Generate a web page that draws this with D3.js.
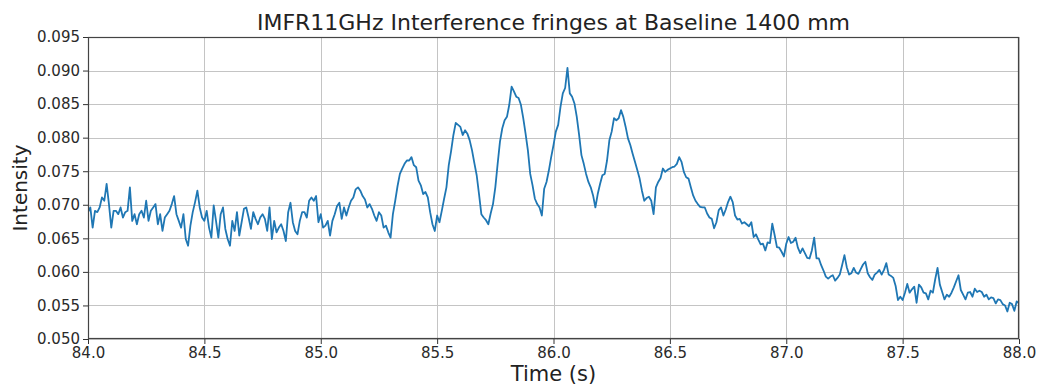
<!DOCTYPE html>
<html><head><meta charset="utf-8">
<script src="https://cdn.jsdelivr.net/npm/d3@7"></script>
<style>body{margin:0;background:#fff} svg text{font-family:"DejaVu Sans",sans-serif}</style>
</head><body><svg id="c" width="1041" height="390"></svg>
<script>
const titleText = "IMFR11GHz Interference fringes at Baseline 1400 mm";
const xLabel = "Time (s)";
const yLabel = "Intensity";
const xTicks = [84.0, 84.5, 85.0, 85.5, 86.0, 86.5, 87.0, 87.5, 88.0];
const yTicks = [0.050, 0.055, 0.060, 0.065, 0.070, 0.075, 0.080, 0.085, 0.090, 0.095];

const timeS = [
84.00,84.01,84.02,84.03,84.04,84.05,84.06,84.07,84.08,84.09,
84.10,84.11,84.12,84.13,84.14,84.15,84.16,84.17,84.18,84.19,
84.20,84.21,84.22,84.23,84.24,84.25,84.26,84.27,84.28,84.29,
84.30,84.31,84.32,84.33,84.34,84.35,84.36,84.37,84.38,84.39,
84.40,84.41,84.42,84.43,84.44,84.45,84.46,84.47,84.48,84.49,
84.50,84.51,84.52,84.53,84.54,84.55,84.56,84.57,84.58,84.59,
84.60,84.61,84.62,84.63,84.64,84.65,84.66,84.67,84.68,84.69,
84.70,84.71,84.72,84.73,84.74,84.75,84.76,84.77,84.78,84.79,
84.80,84.81,84.82,84.83,84.84,84.85,84.86,84.87,84.88,84.89,
84.90,84.91,84.92,84.93,84.94,84.95,84.96,84.97,84.98,84.99,
85.00,85.01,85.02,85.03,85.04,85.05,85.06,85.07,85.08,85.09,
85.10,85.11,85.12,85.13,85.14,85.15,85.16,85.17,85.18,85.19,
85.20,85.21,85.22,85.23,85.24,85.25,85.26,85.27,85.28,85.29,
85.30,85.31,85.32,85.33,85.34,85.35,85.36,85.37,85.38,85.39,
85.40,85.41,85.42,85.43,85.44,85.45,85.46,85.47,85.48,85.49,
85.50,85.51,85.52,85.53,85.54,85.55,85.56,85.57,85.58,85.59,
85.60,85.61,85.62,85.63,85.64,85.65,85.66,85.67,85.68,85.69,
85.70,85.71,85.72,85.73,85.74,85.75,85.76,85.77,85.78,85.79,
85.80,85.81,85.82,85.83,85.84,85.85,85.86,85.87,85.88,85.89,
85.90,85.91,85.92,85.93,85.94,85.95,85.96,85.97,85.98,85.99,
86.00,86.01,86.02,86.03,86.04,86.05,86.06,86.07,86.08,86.09,
86.10,86.11,86.12,86.13,86.14,86.15,86.16,86.17,86.18,86.19,
86.20,86.21,86.22,86.23,86.24,86.25,86.26,86.27,86.28,86.29,
86.30,86.31,86.32,86.33,86.34,86.35,86.36,86.37,86.38,86.39,
86.40,86.41,86.42,86.43,86.44,86.45,86.46,86.47,86.48,86.49,
86.50,86.51,86.52,86.53,86.54,86.55,86.56,86.57,86.58,86.59,
86.60,86.61,86.62,86.63,86.64,86.65,86.66,86.67,86.68,86.69,
86.70,86.71,86.72,86.73,86.74,86.75,86.76,86.77,86.78,86.79,
86.80,86.81,86.82,86.83,86.84,86.85,86.86,86.87,86.88,86.89,
86.90,86.91,86.92,86.93,86.94,86.95,86.96,86.97,86.98,86.99,
87.00,87.01,87.02,87.03,87.04,87.05,87.06,87.07,87.08,87.09,
87.10,87.11,87.12,87.13,87.14,87.15,87.16,87.17,87.18,87.19,
87.20,87.21,87.22,87.23,87.24,87.25,87.26,87.27,87.28,87.29,
87.30,87.31,87.32,87.33,87.34,87.35,87.36,87.37,87.38,87.39,
87.40,87.41,87.42,87.43,87.44,87.45,87.46,87.47,87.48,87.49,
87.50,87.51,87.52,87.53,87.54,87.55,87.56,87.57,87.58,87.59,
87.60,87.61,87.62,87.63,87.64,87.65,87.66,87.67,87.68,87.69,
87.70,87.71,87.72,87.73,87.74,87.75,87.76,87.77,87.78,87.79,
87.80,87.81,87.82,87.83,87.84,87.85,87.86,87.87,87.88,87.89,
87.90,87.91,87.92,87.93,87.94,87.95,87.96,87.97,87.98,87.99,
88.00
];

const intensity = [
0.0689,0.0696,0.0666,0.0691,0.0689,0.0696,0.0711,0.0706,0.0731,0.0701,
0.0666,0.0691,0.0691,0.0686,0.0696,0.0681,0.0689,0.0691,0.0726,0.0676,
0.0686,0.0671,0.0686,0.0691,0.0681,0.0706,0.0676,0.0691,0.0696,0.0701,
0.0671,0.0686,0.0661,0.0681,0.0686,0.0691,0.0701,0.0713,0.0686,0.0676,
0.0666,0.0686,0.0649,0.0639,0.0669,0.0689,0.0704,0.0721,0.0696,0.0681,
0.0676,0.0691,0.0666,0.0651,0.0699,0.0676,0.0651,0.0686,0.0696,0.0664,
0.0649,0.0639,0.0676,0.0661,0.0689,0.0654,0.0674,0.0694,0.0696,0.0681,
0.0664,0.0689,0.0679,0.0671,0.0681,0.0686,0.0679,0.0661,0.0696,0.0649,
0.0676,0.0659,0.0666,0.0671,0.0661,0.0646,0.0689,0.0703,0.0674,0.0661,
0.0656,0.0676,0.0689,0.0689,0.0681,0.0706,0.0711,0.0706,0.0713,0.0674,
0.0686,0.0666,0.0669,0.0676,0.0654,0.0676,0.0686,0.0698,0.0703,0.0679,
0.0696,0.0684,0.0696,0.0706,0.0711,0.0723,0.0726,0.0721,0.0713,0.0708,
0.0696,0.0701,0.0694,0.0684,0.0676,0.0689,0.0684,0.0666,0.0669,0.0659,
0.0651,0.0686,0.0706,0.0728,0.0746,0.0754,0.0761,0.0766,0.0766,0.0771,
0.0759,0.0756,0.0736,0.0729,0.0716,0.0719,0.0711,0.0689,0.0671,0.0661,
0.0684,0.0674,0.0691,0.0709,0.0726,0.0759,0.0780,0.0804,0.0822,0.0819,
0.0816,0.0804,0.0811,0.0806,0.0796,0.0781,0.0762,0.0744,0.0716,0.0686,
0.0681,0.0677,0.0671,0.0687,0.0701,0.0726,0.0761,0.0794,0.0814,0.0826,
0.0831,0.0849,0.0876,0.0869,0.0861,0.0859,0.0849,0.0829,0.0806,0.0781,
0.0746,0.0729,0.0709,0.0701,0.0696,0.0684,0.0724,0.0734,0.0751,0.0771,
0.0789,0.0809,0.0819,0.0846,0.0866,0.0874,0.0904,0.0866,0.0861,0.0851,
0.0831,0.0804,0.0774,0.0761,0.0746,0.0734,0.0726,0.0714,0.0696,0.0716,
0.0731,0.0744,0.0746,0.0766,0.0796,0.0809,0.0829,0.0826,0.0829,0.0841,
0.0831,0.0816,0.0799,0.0789,0.0776,0.0764,0.0752,0.0739,0.0721,0.0706,
0.0710,0.0712,0.0706,0.0686,0.0726,0.0734,0.0740,0.0754,0.0749,0.0752,
0.0754,0.0756,0.0757,0.0761,0.0771,0.0764,0.0749,0.0741,0.0739,0.0726,
0.0714,0.0706,0.0701,0.0697,0.0696,0.0696,0.0687,0.0681,0.0679,0.0665,
0.0674,0.0692,0.0696,0.0684,0.0693,0.0704,0.0712,0.0704,0.0684,0.0678,
0.0679,0.0672,0.0674,0.0671,0.0668,0.0674,0.0652,0.0656,0.0648,0.0641,
0.0642,0.0632,0.0644,0.0643,0.0672,0.0655,0.0637,0.0636,0.0630,0.0623,
0.0642,0.0652,0.0643,0.0645,0.0651,0.0636,0.0628,0.0635,0.0628,0.0621,
0.0620,0.0632,0.0651,0.0620,0.0620,0.0610,0.0602,0.0593,0.0590,0.0593,
0.0595,0.0587,0.0591,0.0596,0.0610,0.0625,0.0607,0.0596,0.0598,0.0606,
0.0599,0.0597,0.0604,0.0611,0.0615,0.0598,0.0592,0.0588,0.0596,0.0599,
0.0603,0.0596,0.0603,0.0613,0.0596,0.0594,0.0591,0.0579,0.0558,0.0563,
0.0558,0.0569,0.0582,0.0569,0.0574,0.0578,0.0554,0.0581,0.0577,0.0569,
0.0568,0.0559,0.0572,0.0569,0.0589,0.0606,0.0581,0.0570,0.0559,0.0566,
0.0563,0.0569,0.0577,0.0586,0.0595,0.0573,0.0566,0.0559,0.0569,0.0570,
0.0563,0.0575,0.0570,0.0572,0.0570,0.0563,0.0566,0.0559,0.0562,0.0561,
0.0553,0.0559,0.0558,0.0552,0.0550,0.0541,0.0554,0.0552,0.0542,0.0556,
0.0553
];

const m = {left: 88, right: 1019, top: 37, bottom: 339};
const svg = d3.select("#c");
const x = d3.scaleLinear().domain([84, 88]).range([m.left, m.right]);
const y = d3.scaleLinear().domain([0.050, 0.095]).range([m.bottom, m.top]);

// grid
const grid = svg.append("g").attr("stroke", "#c4c4c4").attr("stroke-width", 1);
grid.selectAll("line.gx").data(xTicks).join("line").attr("class","gx")
  .attr("x1", d => Math.round(x(d)) + 0.5).attr("x2", d => Math.round(x(d)) + 0.5)
  .attr("y1", m.top).attr("y2", m.bottom);
grid.selectAll("line.gy").data(yTicks).join("line").attr("class","gy")
  .attr("y1", d => Math.round(y(d)) + 0.5).attr("y2", d => Math.round(y(d)) + 0.5)
  .attr("x1", m.left).attr("x2", m.right);

// clip + line
svg.append("clipPath").attr("id", "clip").append("rect")
  .attr("x", m.left).attr("y", m.top).attr("width", m.right - m.left).attr("height", m.bottom - m.top);
const pts = timeS.map((t, i) => [t, intensity[i]]);
svg.append("path").datum(pts)
  .attr("clip-path", "url(#clip)")
  .attr("fill", "none").attr("stroke", "#1f77b4").attr("stroke-width", 1.8)
  .attr("stroke-linejoin", "round")
  .attr("d", d3.line().x(d => x(d[0])).y(d => y(d[1])));

// axes
const xAxis = svg.append("g").attr("transform", `translate(0,${m.bottom})`)
  .call(d3.axisBottom(x).tickValues(xTicks).tickFormat(d3.format(".1f")).tickSize(5).tickPadding(3));
const yAxis = svg.append("g").attr("transform", `translate(${m.left},0)`)
  .call(d3.axisLeft(y).tickValues(yTicks).tickFormat(d3.format(".3f")).tickSize(5).tickPadding(3));
[xAxis, yAxis].forEach(g => {
  g.select(".domain").remove();
  g.selectAll(".tick line").attr("stroke", "#333");
  g.selectAll(".tick text").attr("fill", "#2a2a2a").style("font-size", "15px")
    .style("font-family", '"DejaVu Sans", sans-serif');
});

// spines
svg.append("rect").attr("x", m.left + 0.5).attr("y", m.top + 0.5)
  .attr("width", m.right - m.left - 1).attr("height", m.bottom - m.top - 1)
  .attr("fill", "none").attr("stroke", "#444").attr("stroke-width", 1.2);

// title & labels
svg.append("text").attr("x", (m.left + m.right) / 2).attr("y", 30)
  .attr("text-anchor", "middle").attr("fill", "#222").style("font-size", "22px").text(titleText);
svg.append("text").attr("x", (m.left + m.right) / 2).attr("y", 381)
  .attr("text-anchor", "middle").attr("fill", "#222").style("font-size", "21px").text(xLabel);
svg.append("text").attr("transform", `translate(27,${(m.top + m.bottom) / 2}) rotate(-90)`)
  .attr("text-anchor", "middle").attr("fill", "#222").style("font-size", "20px").text(yLabel);
</script>
</body></html>
